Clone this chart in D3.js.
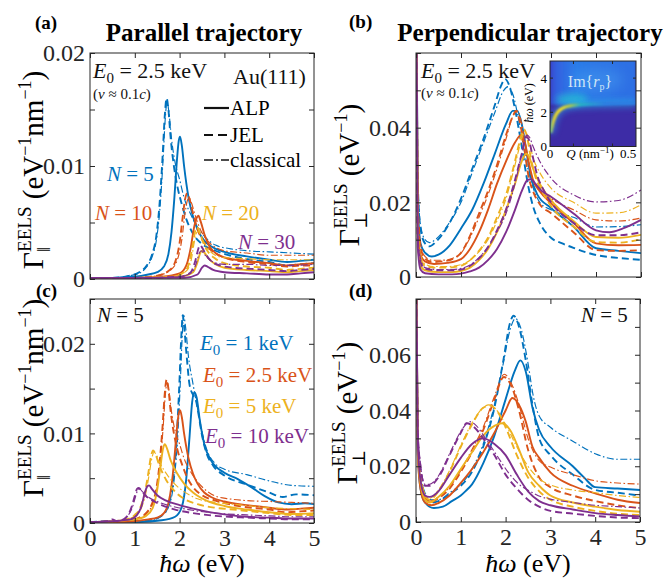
<!DOCTYPE html>
<html>
<head>
<meta charset="utf-8">
<script src="https://cdn.jsdelivr.net/npm/d3@7"></script>
<style>
  html, body { margin: 0; padding: 0; background: #fff; }
  svg { display: block; }
  #fig text { font-family: "Liberation Serif", "DejaVu Serif", serif; }
</style>
</head>
<body>
<svg id="fig" width="668" height="580"></svg>
<script>
// ---------------------------------------------------------------------------
// EELS spectra of Au(111) films: energy (eV) vs. loss probability.
// Each series is a list of [hbar*omega (eV), Gamma] pairs.
// ---------------------------------------------------------------------------

// Parallel trajectory, E0 = 2.5 keV, N = 5 (also the E0 = 2.5 keV curves of panel c)
const par_N5_ALP = [[0,0.0001],[0.5,0.0001],[1.0,0.0002],[1.3,0.0004],[1.5,0.0006],[1.65,0.0011],[1.75,0.0022],[1.82,0.0042],[1.88,0.0070],[1.94,0.0105],[1.98,0.0122],[2.01,0.0126],[2.05,0.0118],[2.1,0.0100],[2.2,0.0072],[2.3,0.0055],[2.4,0.0044],[2.55,0.0034],[2.7,0.0029],[3.0,0.0024],[3.5,0.0020],[4.0,0.0017],[4.4,0.0015],[4.7,0.0016],[5.0,0.0017]];
const par_N5_JEL = [[0,0.0001],[0.5,0.0001],[0.9,0.0003],[1.1,0.0006],[1.25,0.0011],[1.38,0.0021],[1.48,0.0038],[1.55,0.0065],[1.62,0.0108],[1.67,0.0145],[1.71,0.0160],[1.75,0.0150],[1.8,0.0125],[1.88,0.0098],[1.95,0.0082],[2.05,0.0066],[2.15,0.0053],[2.3,0.0040],[2.5,0.0031],[2.8,0.0025],[3.2,0.0020],[3.6,0.0017],[4.0,0.0015],[4.4,0.0012],[4.7,0.0013],[5.0,0.0014]];
const par_N5_cls = [[0,0.0001],[0.5,0.0001],[0.9,0.0003],[1.1,0.0005],[1.25,0.0010],[1.38,0.0019],[1.48,0.0034],[1.56,0.0062],[1.63,0.0105],[1.68,0.0142],[1.72,0.0157],[1.76,0.0148],[1.82,0.0124],[1.9,0.0103],[2.0,0.0088],[2.1,0.0072],[2.25,0.0057],[2.4,0.0046],[2.6,0.0036],[2.8,0.0030],[3.1,0.0027],[3.5,0.0025],[4.0,0.0024],[4.5,0.0023],[5.0,0.0022]];
// Parallel trajectory, E0 = 2.5 keV, N = 10, 20, 30
const par_N10_ALP = [[0,0.0001],[1.0,0.0001],[1.6,0.0002],[2.0,0.0005],[2.15,0.0012],[2.25,0.0028],[2.32,0.0045],[2.38,0.0054],[2.42,0.0056],[2.47,0.0051],[2.55,0.0040],[2.65,0.0030],[2.8,0.0023],[3.0,0.0019],[3.5,0.0016],[4.0,0.0014],[4.4,0.0012],[4.7,0.0013],[5.0,0.0014]];
const par_N10_JEL = [[0,0.0001],[1.0,0.0001],[1.5,0.0003],[1.75,0.0007],[1.9,0.0015],[2.0,0.0032],[2.07,0.0055],[2.12,0.0070],[2.17,0.0076],[2.22,0.0071],[2.3,0.0058],[2.4,0.0044],[2.55,0.0032],[2.75,0.0024],[3.0,0.0019],[3.5,0.0015],[4.0,0.0013],[4.4,0.0011],[4.7,0.0012],[5.0,0.0012]];
const par_N10_cls = [[0,0.0001],[1.0,0.0001],[1.5,0.0003],[1.8,0.0008],[1.95,0.0017],[2.05,0.0035],[2.12,0.0058],[2.17,0.0069],[2.21,0.0072],[2.26,0.0068],[2.35,0.0056],[2.45,0.0045],[2.6,0.0035],[2.8,0.0028],[3.0,0.0025],[3.5,0.0023],[4.0,0.0021],[4.5,0.0021],[5.0,0.0021]];
const par_N20_ALP = [[0,0.0001],[1.0,0.0001],[2.0,0.0002],[2.3,0.0006],[2.4,0.0015],[2.46,0.0023],[2.5,0.0025],[2.56,0.0023],[2.65,0.0018],[2.8,0.0013],[3.0,0.0010],[3.5,0.0008],[4.0,0.0007],[4.4,0.0006],[4.7,0.0007],[5.0,0.0008]];
const par_N20_JEL = [[0,0.0001],[1.0,0.0001],[1.8,0.0002],[2.1,0.0006],[2.22,0.0015],[2.3,0.0032],[2.35,0.0043],[2.39,0.0046],[2.44,0.0042],[2.52,0.0033],[2.62,0.0025],[2.8,0.0018],[3.0,0.0014],[3.5,0.0011],[4.0,0.0010],[4.4,0.0008],[4.7,0.0009],[5.0,0.0010]];
const par_N20_cls = [[0,0.0001],[1.0,0.0001],[1.8,0.0002],[2.15,0.0007],[2.26,0.0017],[2.33,0.0033],[2.38,0.0041],[2.42,0.0042],[2.47,0.0039],[2.55,0.0032],[2.65,0.0026],[2.8,0.0021],[3.0,0.0019],[3.5,0.0018],[4.0,0.0017],[4.5,0.0017],[5.0,0.0017]];
const par_N30_ALP = [[0,0.0001],[1.0,0.0001],[2.1,0.0001],[2.4,0.0004],[2.5,0.0010],[2.56,0.0012],[2.62,0.0011],[2.75,0.0008],[3.0,0.0006],[3.5,0.0005],[4.0,0.0004],[4.4,0.0004],[4.7,0.0005],[5.0,0.0006]];
const par_N30_JEL = [[0,0.0001],[1.0,0.0001],[2.0,0.0002],[2.25,0.0006],[2.35,0.0016],[2.42,0.0027],[2.46,0.0030],[2.5,0.0028],[2.58,0.0022],[2.7,0.0016],[2.9,0.0012],[3.2,0.0010],[3.6,0.0009],[4.0,0.0008],[4.4,0.0007],[4.7,0.0008],[5.0,0.0009]];
const par_N30_cls = [[0,0.0001],[1.0,0.0001],[2.0,0.0002],[2.28,0.0006],[2.38,0.0015],[2.44,0.0023],[2.48,0.0025],[2.53,0.0023],[2.62,0.0019],[2.75,0.0015],[3.0,0.0013],[3.5,0.0013],[4.0,0.0012],[4.5,0.0012],[5.0,0.0013]];

// Perpendicular trajectory, E0 = 2.5 keV, N = 5, 10, 20, 30
const perp_N5_ALP = [[0,0.09],[0.04,0.02],[0.1,0.009],[0.2,0.0065],[0.35,0.0055],[0.5,0.006],[0.75,0.0085],[1.0,0.013],[1.25,0.018],[1.5,0.025],[1.75,0.033],[2.0,0.041],[2.15,0.0445],[2.25,0.0445],[2.35,0.041],[2.45,0.034],[2.55,0.027],[2.7,0.022],[3.0,0.0185],[3.5,0.0135],[4.0,0.0077],[4.5,0.0070],[5.0,0.0064]];
const perp_N5_JEL = [[0,0.09],[0.04,0.025],[0.1,0.013],[0.2,0.009],[0.3,0.0082],[0.45,0.0095],[0.7,0.0135],[1.0,0.021],[1.25,0.029],[1.5,0.037],[1.75,0.046],[1.9,0.0515],[1.98,0.053],[2.08,0.051],[2.2,0.045],[2.35,0.035],[2.5,0.024],[2.6,0.019],[2.75,0.0145],[3.0,0.0105],[3.25,0.0090],[3.5,0.0078],[4.0,0.0059],[4.5,0.0051],[5.0,0.0046]];
const perp_N5_cls = [[0,0.09],[0.04,0.026],[0.1,0.014],[0.2,0.010],[0.3,0.0092],[0.45,0.0102],[0.7,0.0138],[1.0,0.020],[1.25,0.028],[1.5,0.036],[1.75,0.044],[1.95,0.050],[2.05,0.051],[2.15,0.049],[2.3,0.041],[2.45,0.031],[2.6,0.024],[2.75,0.020],[3.0,0.018],[3.5,0.016],[4.0,0.0134],[4.5,0.0135],[5.0,0.014]];
const perp_N10_ALP = [[0,0.09],[0.04,0.015],[0.1,0.006],[0.2,0.0042],[0.4,0.0035],[0.7,0.0038],[1.0,0.0048],[1.2,0.0075],[1.4,0.012],[1.6,0.018],[1.8,0.025],[2.0,0.031],[2.2,0.036],[2.33,0.038],[2.42,0.036],[2.5,0.031],[2.6,0.026],[2.75,0.023],[3.0,0.0198],[3.5,0.0145],[4.0,0.0090],[4.5,0.0085],[5.0,0.0086]];
const perp_N10_JEL = [[0,0.09],[0.04,0.02],[0.1,0.008],[0.2,0.005],[0.35,0.004],[0.6,0.0042],[0.85,0.005],[1.0,0.0065],[1.2,0.011],[1.4,0.017],[1.6,0.023],[1.8,0.030],[2.0,0.038],[2.15,0.043],[2.22,0.0445],[2.3,0.042],[2.4,0.035],[2.5,0.027],[2.6,0.023],[2.75,0.0195],[3.0,0.0171],[3.5,0.012],[4.0,0.0072],[4.5,0.0070],[5.0,0.0072]];
const perp_N10_cls = [[0,0.09],[0.04,0.022],[0.1,0.009],[0.2,0.0055],[0.35,0.0045],[0.6,0.0045],[0.85,0.0052],[1.0,0.0064],[1.2,0.0105],[1.4,0.016],[1.6,0.022],[1.8,0.029],[2.0,0.037],[2.15,0.043],[2.25,0.0445],[2.35,0.041],[2.45,0.034],[2.55,0.028],[2.7,0.024],[3.0,0.021],[3.5,0.018],[4.0,0.0153],[4.5,0.015],[5.0,0.0158]];
const perp_N20_ALP = [[0,0.09],[0.04,0.01],[0.1,0.003],[0.2,0.0018],[0.5,0.0013],[0.8,0.0013],[1.0,0.0016],[1.2,0.0025],[1.4,0.0045],[1.6,0.0075],[1.8,0.012],[2.0,0.018],[2.2,0.025],[2.35,0.031],[2.45,0.033],[2.52,0.032],[2.6,0.029],[2.75,0.025],[3.0,0.0206],[3.5,0.015],[4.0,0.0107],[4.5,0.0105],[5.0,0.0113]];
const perp_N20_JEL = [[0,0.09],[0.04,0.012],[0.1,0.005],[0.2,0.003],[0.4,0.0025],[0.7,0.0025],[1.0,0.003],[1.2,0.0045],[1.4,0.007],[1.6,0.0105],[1.8,0.016],[2.0,0.022],[2.2,0.031],[2.32,0.037],[2.4,0.0395],[2.46,0.038],[2.55,0.032],[2.65,0.027],[2.8,0.023],[3.0,0.019],[3.5,0.0135],[4.0,0.0094],[4.5,0.0092],[5.0,0.0101]];
const perp_N20_cls = [[0,0.09],[0.04,0.014],[0.1,0.006],[0.2,0.0035],[0.4,0.0028],[0.7,0.0028],[1.0,0.0033],[1.2,0.0045],[1.4,0.0068],[1.6,0.010],[1.8,0.015],[2.0,0.021],[2.2,0.030],[2.35,0.037],[2.42,0.039],[2.5,0.037],[2.6,0.032],[2.75,0.028],[3.0,0.0238],[3.5,0.020],[4.0,0.0171],[4.5,0.0172],[5.0,0.0193]];
const perp_N30_ALP = [[0,0.09],[0.04,0.008],[0.1,0.002],[0.2,0.001],[0.5,0.0007],[0.8,0.0007],[1.0,0.0009],[1.2,0.0015],[1.4,0.0025],[1.6,0.0045],[1.8,0.0075],[2.0,0.012],[2.2,0.018],[2.35,0.023],[2.48,0.026],[2.56,0.0262],[2.65,0.025],[2.8,0.023],[3.0,0.0215],[3.5,0.017],[4.0,0.0125],[4.3,0.012],[4.6,0.013],[5.0,0.0153]];
const perp_N30_JEL = [[0,0.09],[0.04,0.01],[0.1,0.004],[0.2,0.0022],[0.5,0.0018],[0.8,0.0018],[1.0,0.002],[1.2,0.003],[1.4,0.005],[1.6,0.008],[1.8,0.0125],[2.0,0.018],[2.2,0.026],[2.35,0.033],[2.45,0.0375],[2.5,0.037],[2.58,0.033],[2.7,0.027],[2.85,0.023],[3.0,0.020],[3.5,0.0145],[4.0,0.0112],[4.5,0.0112],[5.0,0.012]];
const perp_N30_cls = [[0,0.09],[0.04,0.012],[0.1,0.005],[0.2,0.0025],[0.5,0.002],[0.8,0.002],[1.0,0.0023],[1.2,0.0032],[1.4,0.0052],[1.6,0.008],[1.8,0.012],[2.0,0.017],[2.2,0.025],[2.35,0.033],[2.46,0.038],[2.52,0.0375],[2.6,0.035],[2.75,0.031],[3.0,0.0265],[3.5,0.022],[4.0,0.0201],[4.5,0.0205],[5.0,0.0233]];

// Parallel trajectory, N = 5, E0 = 1, 5, 10 keV
const parE1_ALP = [[0,0.0001],[0.5,0.0001],[1.0,0.0001],[1.6,0.0003],[1.9,0.0007],[2.05,0.0018],[2.15,0.005],[2.22,0.0095],[2.28,0.0135],[2.33,0.0146],[2.38,0.014],[2.45,0.0115],[2.55,0.0088],[2.7,0.0070],[3.0,0.0056],[3.3,0.0049],[3.6,0.0040],[3.9,0.0030],[4.2,0.0023],[4.5,0.0021],[4.8,0.0022],[5.0,0.0021]];
const parE1_JEL = [[0,0.0001],[0.5,0.0002],[1.0,0.0002],[1.4,0.0004],[1.6,0.0008],[1.75,0.002],[1.85,0.0045],[1.93,0.009],[1.99,0.015],[2.04,0.021],[2.07,0.0232],[2.1,0.022],[2.16,0.0185],[2.22,0.0155],[2.3,0.0143],[2.36,0.0138],[2.42,0.0122],[2.5,0.0098],[2.6,0.0078],[2.75,0.0064],[3.0,0.0053],[3.5,0.0043],[4.0,0.0034],[4.3,0.0029],[4.6,0.0032],[5.0,0.0031]];
const parE1_cls = [[0,0.0001],[0.5,0.0002],[1.0,0.0002],[1.4,0.0004],[1.6,0.0008],[1.77,0.002],[1.87,0.0045],[1.95,0.009],[2.01,0.015],[2.06,0.021],[2.09,0.0232],[2.13,0.022],[2.2,0.0185],[2.3,0.0155],[2.4,0.0128],[2.5,0.0102],[2.6,0.0083],[2.8,0.0066],[3.0,0.0060],[3.5,0.0054],[4.0,0.0047],[4.5,0.0042],[5.0,0.0041]];
const parE5_ALP = [[0,0.0001],[0.5,0.0002],[1.0,0.0004],[1.25,0.0008],[1.4,0.0017],[1.5,0.0037],[1.57,0.0062],[1.63,0.0083],[1.67,0.0088],[1.72,0.0083],[1.8,0.0070],[1.95,0.0055],[2.1,0.0044],[2.3,0.0034],[2.6,0.0025],[3.0,0.0019],[3.5,0.0015],[4.0,0.0012],[4.5,0.0010],[5.0,0.0011]];
const parE5_JEL = [[0,0.0001],[0.5,0.0002],[0.8,0.0004],[1.0,0.0009],[1.12,0.0017],[1.22,0.0033],[1.3,0.0055],[1.36,0.0074],[1.41,0.0081],[1.46,0.0077],[1.55,0.0064],[1.7,0.0048],[1.9,0.0035],[2.1,0.0027],[2.4,0.0021],[2.8,0.0017],[3.2,0.0015],[3.6,0.0013],[4.0,0.0011],[4.5,0.0009],[5.0,0.0009]];
const parE5_cls = [[0,0.0001],[0.5,0.0002],[0.8,0.0004],[1.0,0.0008],[1.14,0.0016],[1.24,0.0032],[1.32,0.0054],[1.38,0.0072],[1.43,0.0079],[1.48,0.0076],[1.57,0.0066],[1.72,0.0054],[1.9,0.0043],[2.1,0.0035],[2.4,0.0027],[2.8,0.0023],[3.2,0.0021],[3.6,0.0019],[4.0,0.0017],[4.5,0.0016],[5.0,0.0015]];
const parE10_ALP = [[0,0.0001],[0.5,0.0002],[0.9,0.0004],[1.05,0.0009],[1.15,0.0019],[1.22,0.0033],[1.28,0.0041],[1.32,0.0042],[1.38,0.0038],[1.5,0.0031],[1.7,0.0025],[2.0,0.0020],[2.4,0.0015],[2.8,0.0011],[3.5,0.0007],[4.0,0.0006],[4.5,0.0005],[5.0,0.0005]];
const parE10_JEL = [[0,0.0001],[0.4,0.0002],[0.5,0.0004],[0.6,0.0002],[0.75,0.0004],[0.85,0.0009],[0.93,0.0018],[1.0,0.0030],[1.05,0.0038],[1.09,0.0039],[1.15,0.0036],[1.25,0.0030],[1.4,0.0025],[1.6,0.0020],[1.9,0.0015],[2.3,0.0011],[2.8,0.0008],[3.5,0.0006],[4.0,0.0005],[4.5,0.0004],[5.0,0.0004]];
const parE10_cls = [[0,0.0001],[0.4,0.0002],[0.6,0.0002],[0.75,0.0004],[0.86,0.0009],[0.95,0.0018],[1.02,0.0030],[1.07,0.0037],[1.11,0.0038],[1.17,0.0035],[1.3,0.0029],[1.5,0.0024],[1.8,0.0019],[2.2,0.0015],[2.8,0.0011],[3.5,0.0009],[4.0,0.0008],[4.5,0.0007],[5.0,0.0007]];

// Perpendicular trajectory, N = 5, E0 = 1, 2.5, 5, 10 keV
const perpE1_ALP = [[0,0.1],[0.04,0.025],[0.1,0.012],[0.2,0.007],[0.4,0.005],[0.6,0.0055],[0.8,0.0075],[1.0,0.0095],[1.1,0.011],[1.25,0.0135],[1.5,0.021],[1.75,0.031],[2.0,0.044],[2.2,0.054],[2.33,0.058],[2.45,0.054],[2.6,0.041],[2.75,0.033],[3.0,0.027],[3.5,0.020],[3.75,0.016],[4.0,0.0125],[4.5,0.012],[5.0,0.0115]];
const perpE1_JEL = [[0,0.1],[0.04,0.03],[0.1,0.018],[0.2,0.0095],[0.35,0.007],[0.5,0.0075],[0.75,0.010],[1.0,0.013],[1.25,0.018],[1.5,0.027],[1.75,0.041],[1.95,0.058],[2.1,0.0715],[2.18,0.074],[2.3,0.070],[2.45,0.058],[2.6,0.042],[2.75,0.030],[3.0,0.024],[3.5,0.017],[4.0,0.0115],[4.5,0.0105],[5.0,0.0095]];
const perpE1_cls = [[0,0.1],[0.04,0.032],[0.1,0.019],[0.2,0.0105],[0.35,0.008],[0.5,0.008],[0.75,0.0105],[1.0,0.0135],[1.25,0.019],[1.5,0.028],[1.75,0.042],[1.95,0.057],[2.1,0.069],[2.22,0.073],[2.35,0.069],[2.5,0.057],[2.62,0.045],[2.75,0.038],[3.0,0.034],[3.5,0.029],[4.0,0.0245],[4.5,0.0225],[5.0,0.0225]];
const perpE25_ALP = [[0,0.1],[0.04,0.024],[0.1,0.012],[0.2,0.007],[0.35,0.006],[0.5,0.0068],[0.75,0.0095],[1.0,0.014],[1.25,0.019],[1.5,0.025],[1.75,0.032],[2.0,0.040],[2.15,0.0445],[2.3,0.042],[2.45,0.036],[2.6,0.027],[2.75,0.023],[3.0,0.0178],[3.5,0.013],[4.0,0.0103],[4.5,0.0080],[5.0,0.0068]];
const perpE25_JEL = [[0,0.1],[0.04,0.03],[0.1,0.017],[0.2,0.009],[0.3,0.007],[0.5,0.0085],[0.75,0.012],[1.0,0.018],[1.25,0.025],[1.5,0.033],[1.75,0.044],[1.96,0.052],[2.15,0.048],[2.3,0.040],[2.5,0.026],[2.75,0.016],[3.0,0.0125],[3.5,0.0095],[4.0,0.0075],[4.5,0.006],[5.0,0.005]];
const perpE25_cls = [[0,0.1],[0.04,0.031],[0.1,0.018],[0.2,0.0095],[0.3,0.0075],[0.5,0.009],[0.75,0.0125],[1.0,0.0185],[1.25,0.026],[1.5,0.034],[1.75,0.045],[1.97,0.053],[2.15,0.049],[2.3,0.042],[2.5,0.030],[2.75,0.022],[3.0,0.0197],[3.5,0.017],[4.0,0.0148],[4.5,0.014],[5.0,0.0136]];
const perpE5_ALP = [[0,0.1],[0.04,0.026],[0.1,0.014],[0.2,0.008],[0.3,0.007],[0.5,0.009],[0.75,0.013],[1.0,0.019],[1.25,0.025],[1.5,0.031],[1.75,0.0345],[1.92,0.0354],[2.1,0.033],[2.3,0.026],[2.5,0.018],[2.75,0.013],[3.0,0.0095],[3.5,0.007],[4.0,0.0055],[4.5,0.0043],[5.0,0.0037]];
const perpE5_JEL = [[0,0.1],[0.04,0.03],[0.1,0.017],[0.2,0.0095],[0.3,0.008],[0.5,0.011],[0.75,0.018],[1.0,0.027],[1.25,0.035],[1.5,0.041],[1.65,0.0418],[1.8,0.040],[2.0,0.034],[2.25,0.024],[2.5,0.016],[2.75,0.011],[3.0,0.008],[3.5,0.0055],[4.0,0.004],[4.5,0.003],[5.0,0.0025]];
const perpE5_cls = [[0,0.1],[0.04,0.031],[0.1,0.018],[0.2,0.010],[0.3,0.0085],[0.5,0.0115],[0.75,0.0185],[1.0,0.0275],[1.25,0.0355],[1.5,0.041],[1.62,0.042],[1.78,0.0405],[2.0,0.035],[2.25,0.027],[2.5,0.020],[2.75,0.0155],[3.0,0.0133],[3.5,0.0115],[4.0,0.0105],[4.5,0.0095],[5.0,0.0088]];
const perpE10_ALP = [[0,0.1],[0.04,0.028],[0.1,0.015],[0.2,0.0095],[0.3,0.009],[0.5,0.011],[0.75,0.017],[1.0,0.023],[1.25,0.028],[1.5,0.030],[1.75,0.028],[2.0,0.024],[2.25,0.017],[2.5,0.011],[2.75,0.0075],[3.0,0.006],[3.5,0.0045],[4.0,0.0032],[4.5,0.0025],[5.0,0.002]];
const perpE10_JEL = [[0,0.1],[0.04,0.032],[0.1,0.020],[0.2,0.013],[0.3,0.013],[0.5,0.016],[0.75,0.024],[1.0,0.032],[1.13,0.0354],[1.3,0.034],[1.5,0.030],[1.75,0.024],[2.0,0.017],[2.25,0.012],[2.5,0.008],[2.75,0.0055],[3.0,0.004],[3.5,0.003],[4.0,0.0022],[4.5,0.0016],[5.0,0.0014]];
const perpE10_cls = [[0,0.1],[0.04,0.033],[0.1,0.021],[0.2,0.0135],[0.3,0.0135],[0.5,0.0165],[0.75,0.0245],[1.0,0.0325],[1.2,0.036],[1.35,0.0345],[1.55,0.030],[1.8,0.024],[2.05,0.018],[2.3,0.0135],[2.55,0.011],[2.8,0.009],[3.0,0.0082],[3.5,0.007],[4.0,0.006],[4.5,0.0055],[5.0,0.005]];

// Inset: surface-plasmon dispersion of Im{r_p}, Q (1/nm) vs hbar*omega (eV)
const inset_Q = [0.004, 0.012, 0.02, 0.03, 0.045, 0.065, 0.09, 0.12, 0.16, 0.22, 0.3, 0.4, 0.55];
const inset_W = [0.8, 1.15, 1.45, 1.7, 1.95, 2.15, 2.28, 2.36, 2.42, 2.46, 2.48, 2.5, 2.53];
const insetBulkQ = [0, 0.1, 0.2, 0.3, 0.4, 0.55];
const insetBulkW = [2.45, 2.47, 2.5, 2.52, 2.54, 2.56];

// Axis ticks and labels
const xTicks = [0, 1, 2, 3, 4, 5];
const yTicksA = [0, 0.005, 0.01, 0.015, 0.02];
const yLabelsA = [0, 0.01, 0.02];
const yTicksB = [0, 0.01, 0.02, 0.03, 0.04, 0.05, 0.06];
const yLabelsB = [0, 0.02, 0.04];
const yTicksC = [0, 0.005, 0.01, 0.015, 0.02, 0.025];
const yLabelsC = [0, 0.01, 0.02];
const yTicksD = [0, 0.01, 0.02, 0.03, 0.04, 0.05, 0.06, 0.07, 0.08];
const yLabelsD = [0, 0.02, 0.04, 0.06];
const insetYTicks = [0, 2, 4];
const insetXLabels = [0, 0.5];
const insetXTicks = [0.15, 0.4];

// ---------------------------------------------------------------------------
const SERIF = '"Liberation Serif", "DejaVu Serif", serif';
const C = { blue: '#0072BD', orange: '#D95319', yellow: '#EDB120', purple: '#7E2F8E' };
const style = {
  ALP: { w: 1.9, dash: null },
  JEL: { w: 1.9, dash: '7 4' },
  cls: { w: 1.15, dash: '7 2.5 1.6 2.5' }
};

const svg = d3.select('#fig');
const defs = svg.append('defs');

// Text built from pieces: base text, sub/superscripts (b = baseline shift, up positive),
// `under` stacks a piece beneath the previous one.
function rich(parent, parts, size) {
  const text = parent.append('text').attr('font-size', size);
  let base = 0, prevW = 0, pending = 0;
  parts.forEach(p => {
    const ts = text.append('tspan').text(p.t);
    if (p.s) ts.attr('font-size', p.s);
    if (p.it) ts.attr('font-style', 'italic');
    if (p.bold) ts.attr('font-weight', 'bold');
    const shift = p.b || 0;
    if (base - shift !== 0) ts.attr('dy', base - shift);
    base = shift;
    let dx = pending; pending = 0;
    if (p.under) dx -= prevW;
    if (dx) ts.attr('dx', dx);
    const w = ts.node().getComputedTextLength();
    if (p.under) pending = Math.max(0, prevW - w);
    prevW = w;
  });
  return text;
}
function placeCentered(text, cx) {
  const bb = text.node().getBBox();
  text.attr('x', cx - bb.width / 2);
}
function rotatedTitle(cx, cy, parts, size) {
  const g = svg.append('g').attr('transform', `translate(${cx},${cy}) rotate(-90)`);
  const t = rich(g, parts, size);
  const bb = t.node().getBBox();
  t.attr('x', -bb.width / 2);
  return t;
}

const layout = {
  a: { x0: 90, x1: 314, y0: 53, y1: 279 },
  b: { x0: 416, x1: 641, y0: 53, y1: 277 },
  c: { x0: 90, x1: 314, y0: 299, y1: 523 },
  d: { x0: 416, x1: 640, y0: 299, y1: 522 }
};

const panels = [
  { key: 'a', yMax: 0.02, yTicks: yTicksA, yLabels: yLabelsA, xLab: false, series: [
    [par_N5_ALP, C.blue, 'ALP'], [par_N5_JEL, C.blue, 'JEL'], [par_N5_cls, C.blue, 'cls'],
    [par_N10_ALP, C.orange, 'ALP'], [par_N10_JEL, C.orange, 'JEL'], [par_N10_cls, C.orange, 'cls'],
    [par_N20_ALP, C.yellow, 'ALP'], [par_N20_JEL, C.yellow, 'JEL'], [par_N20_cls, C.yellow, 'cls'],
    [par_N30_ALP, C.purple, 'ALP'], [par_N30_JEL, C.purple, 'JEL'], [par_N30_cls, C.purple, 'cls']] },
  { key: 'b', yMax: 0.06, yTicks: yTicksB, yLabels: yLabelsB, xLab: false, series: [
    [perp_N5_ALP, C.blue, 'ALP'], [perp_N5_JEL, C.blue, 'JEL'], [perp_N5_cls, C.blue, 'cls'],
    [perp_N10_ALP, C.orange, 'ALP'], [perp_N10_JEL, C.orange, 'JEL'], [perp_N10_cls, C.orange, 'cls'],
    [perp_N20_ALP, C.yellow, 'ALP'], [perp_N20_JEL, C.yellow, 'JEL'], [perp_N20_cls, C.yellow, 'cls'],
    [perp_N30_ALP, C.purple, 'ALP'], [perp_N30_JEL, C.purple, 'JEL'], [perp_N30_cls, C.purple, 'cls']] },
  { key: 'c', yMax: 0.025, yTicks: yTicksC, yLabels: yLabelsC, xLab: true, series: [
    [parE1_ALP, C.blue, 'ALP'], [parE1_JEL, C.blue, 'JEL'], [parE1_cls, C.blue, 'cls'],
    [par_N5_ALP, C.orange, 'ALP'], [par_N5_JEL, C.orange, 'JEL'], [par_N5_cls, C.orange, 'cls'],
    [parE5_ALP, C.yellow, 'ALP'], [parE5_JEL, C.yellow, 'JEL'], [parE5_cls, C.yellow, 'cls'],
    [parE10_ALP, C.purple, 'ALP'], [parE10_JEL, C.purple, 'JEL'], [parE10_cls, C.purple, 'cls']] },
  { key: 'd', yMax: 0.08, yTicks: yTicksD, yLabels: yLabelsD, xLab: true, series: [
    [perpE1_ALP, C.blue, 'ALP'], [perpE1_JEL, C.blue, 'JEL'], [perpE1_cls, C.blue, 'cls'],
    [perpE25_ALP, C.orange, 'ALP'], [perpE25_JEL, C.orange, 'JEL'], [perpE25_cls, C.orange, 'cls'],
    [perpE5_ALP, C.yellow, 'ALP'], [perpE5_JEL, C.yellow, 'JEL'], [perpE5_cls, C.yellow, 'cls'],
    [perpE10_ALP, C.purple, 'ALP'], [perpE10_JEL, C.purple, 'JEL'], [perpE10_cls, C.purple, 'cls']] }
];

const fmtY = v => v === 0 ? '0' : d3.format('.2f')(v);
const AX = '#262626';

panels.forEach(p => {
  const b = layout[p.key];
  const x = d3.scaleLinear().domain([0, 5]).range([b.x0, b.x1]);
  const y = d3.scaleLinear().domain([0, p.yMax]).range([b.y1, b.y0]);
  const clipId = 'clip-' + p.key;
  defs.append('clipPath').attr('id', clipId).append('rect')
    .attr('x', b.x0).attr('y', b.y0).attr('width', b.x1 - b.x0).attr('height', b.y1 - b.y0);

  const g = svg.append('g');
  const line = d3.line().x(d => x(d[0])).y(d => y(d[1])).curve(d3.curveMonotoneX);
  const cg = g.append('g').attr('clip-path', `url(#${clipId})`);
  p.series.forEach(([data, color, model]) => {
    const st = style[model];
    cg.append('path').datum(data).attr('d', line)
      .attr('fill', 'none').attr('stroke', color).attr('stroke-width', st.w)
      .attr('stroke-dasharray', st.dash).attr('stroke-linejoin', 'round');
  });

  const fontAxis = s => s.attr('font-family', SERIF).attr('font-size', 24).attr('color', AX)
    .call(s2 => s2.select('.domain').remove());
  g.append('g').attr('transform', `translate(${b.x0},0)`)
    .call(d3.axisLeft(y).tickValues(p.yTicks).tickSizeInner(-5).tickSizeOuter(0).tickPadding(5)
      .tickFormat(v => p.yLabels.includes(v) ? fmtY(v) : ''))
    .call(fontAxis);
  g.append('g').attr('transform', `translate(${b.x1},0)`)
    .call(d3.axisRight(y).tickValues(p.yTicks).tickSizeInner(-5).tickSizeOuter(0).tickFormat(''))
    .call(fontAxis);
  g.append('g').attr('transform', `translate(0,${b.y1})`)
    .call(d3.axisBottom(x).tickValues(xTicks).tickSizeInner(-5).tickSizeOuter(0).tickPadding(6)
      .tickFormat(p.xLab ? d3.format('d') : ''))
    .call(fontAxis);
  g.append('g').attr('transform', `translate(0,${b.y0})`)
    .call(d3.axisTop(x).tickValues(xTicks).tickSizeInner(-5).tickSizeOuter(0).tickFormat(''))
    .call(fontAxis);
  g.append('rect').attr('x', b.x0).attr('y', b.y0).attr('width', b.x1 - b.x0).attr('height', b.y1 - b.y0)
    .attr('fill', 'none').attr('stroke', AX).attr('stroke-width', 1);
});

// ---------------- Panel letters and column titles ----------------
const letter = (t, x, y) => svg.append('text').attr('x', x).attr('y', y).attr('font-size', 19)
  .attr('font-weight', 'bold').text(t);
letter('(a)', 35, 29); letter('(b)', 349, 28); letter('(c)', 36, 297); letter('(d)', 349, 297);
svg.append('text').attr('x', 204).attr('y', 41).attr('text-anchor', 'middle').attr('font-size', 25)
  .attr('font-weight', 'bold').text('Parallel trajectory');
svg.append('text').attr('x', 530).attr('y', 41).attr('text-anchor', 'middle').attr('font-size', 25)
  .attr('font-weight', 'bold').text('Perpendicular trajectory');

// ---------------- Axis titles ----------------
const gParParts = [
  { t: 'Γ', s: 30 }, { t: 'EELS', s: 19, b: 12 }, { t: '‖', s: 19, b: -7, under: true },
  { t: '\u00A0(eV', s: 29 }, { t: '−1', s: 18, b: 12 }, { t: 'nm', s: 29 }, { t: '−1', s: 18, b: 12 }, { t: ')', s: 29 }
];
const gPerpParts = [
  { t: 'Γ', s: 30 }, { t: 'EELS', s: 19, b: 12 }, { t: '⊥', s: 18, b: -8, under: true },
  { t: '\u00A0(eV', s: 29 }, { t: '−1', s: 18, b: 12 }, { t: ')', s: 29 }
];
rotatedTitle(43, 170, gParParts, 29);
rotatedTitle(43, 398, gParParts, 29);
rotatedTitle(359, 175, gPerpParts, 29);
rotatedTitle(357, 413, gPerpParts, 29);
const hw = [{ t: 'ħω', it: true }, { t: '\u00A0(eV)' }];
placeCentered(rich(svg, hw, 26).attr('y', 572), 202);
placeCentered(rich(svg, hw, 26).attr('y', 572), 528);

// ---------------- Annotations ----------------
function label(parts, x, y, size, color) {
  return rich(svg, parts, size).attr('x', x).attr('y', y).attr('fill', color || '#111');
}
const e0 = v => [{ t: 'E', it: true }, { t: '0', s: 15, b: -5 }, { t: ` = ${v} keV` }];
const vel = [{ t: '(' }, { t: 'v', it: true }, { t: ' ≈ 0.1' }, { t: 'c', it: true }, { t: ')' }];
const nLab = v => [{ t: 'N', it: true }, { t: ` = ${v}` }];

label(e0('2.5'), 93, 78, 22);
label(vel, 93, 99, 15);
label([{ t: 'Au(111)' }], 233, 84, 22);
label(e0('2.5'), 421, 78, 22);
label(vel, 421, 98, 15);

label(nLab(5), 107, 181, 21, C.blue);
label(nLab(10), 95, 220, 21, C.orange);
label(nLab(20), 202, 220, 21, C.yellow);
label(nLab(30), 238, 249, 21, C.purple);

label(nLab(5), 97, 322, 21);
label(nLab(5), 581, 322, 21);
label(e0('1'), 200, 350, 21, C.blue);
label(e0('2.5'), 203, 382, 21, C.orange);
label(e0('5'), 203, 413, 21, C.yellow);
label(e0('10'), 205, 443, 21, C.purple);

// Legend of the three models
const legendRows = [['ALP', 'ALP', 108], ['JEL', 'JEL', 135], ['cls', 'classical', 160]];
legendRows.forEach(([m, name, yy]) => {
  svg.append('line').attr('x1', 204).attr('x2', 229).attr('y1', yy).attr('y2', yy)
    .attr('stroke', '#111').attr('stroke-width', m === 'cls' ? 1.6 : 2.2)
    .attr('stroke-dasharray', m === 'JEL' ? '9 5' : (m === 'cls' ? '9 3 2 3' : null));
  svg.append('text').attr('x', 230).attr('y', yy + 7).attr('font-size', 21).text(name);
});

// ---------------- Inset: Im{r_p} map ----------------
const ib = { x0: 550, x1: 636, y0: 61, y1: 146.5 };
const qx = d3.scaleLinear().domain([0, 0.55]).range([ib.x0, ib.x1]);
const wy = d3.scaleLinear().domain([0, 5]).range([ib.y1, ib.y0]);
defs.append('clipPath').attr('id', 'clip-inset').append('rect')
  .attr('x', ib.x0).attr('y', ib.y0).attr('width', ib.x1 - ib.x0).attr('height', ib.y1 - ib.y0);
const blur = (id, s) => defs.append('filter').attr('id', id).attr('x', '-50%').attr('y', '-50%')
  .attr('width', '200%').attr('height', '200%').append('feGaussianBlur').attr('stdDeviation', s);
blur('blur1', 0.8); blur('blur3', 3); blur('blur6', 6);

const upGrad = defs.append('linearGradient').attr('id', 'upper').attr('gradientUnits', 'userSpaceOnUse')
  .attr('x1', ib.x0).attr('x2', ib.x1).attr('y1', 0).attr('y2', 0);
[[0, '#3a45cc'], [0.08, '#3162e0'], [0.3, '#2c7be8'], [1, '#2f6ee3']].forEach(([o, c]) =>
  upGrad.append('stop').attr('offset', o).attr('stop-color', c));
const dispGrad = defs.append('linearGradient').attr('id', 'disp').attr('gradientUnits', 'userSpaceOnUse')
  .attr('x1', ib.x0).attr('x2', ib.x0 + 55).attr('y1', 0).attr('y2', 0);
[[0, '#3fbf9a'], [0.06, '#e6d52a'], [0.2, '#fbe41c'], [0.35, '#b5cc45'], [0.55, '#25b6c6'], [1, '#2b82e6']].forEach(([o, c]) =>
  dispGrad.append('stop').attr('offset', o).attr('stop-color', c));

const ig = svg.append('g');
const icg = ig.append('g').attr('clip-path', 'url(#clip-inset)');
icg.append('rect').attr('x', ib.x0).attr('y', ib.y0).attr('width', ib.x1 - ib.x0).attr('height', ib.y1 - ib.y0)
  .attr('fill', '#3d2ca6');
const bulk = insetBulkQ.map((q, i) => [q, insetBulkW[i]]);
icg.append('path').datum(bulk)
  .attr('d', d3.area().x(d => qx(d[0])).y0(wy(5.2)).y1(d => wy(d[1])).curve(d3.curveMonotoneX))
  .attr('fill', 'url(#upper)').attr('filter', 'url(#blur1)');
icg.append('ellipse').attr('cx', qx(0.3)).attr('cy', wy(3.9)).attr('rx', 26).attr('ry', 10)
  .attr('fill', '#4a9ff0').attr('opacity', 0.45).attr('filter', 'url(#blur6)');
icg.append('ellipse').attr('cx', qx(0.14)).attr('cy', wy(2.75)).attr('rx', 16).attr('ry', 6)
  .attr('fill', '#25bfd3').attr('opacity', 0.75).attr('filter', 'url(#blur3)');
const disp = inset_Q.map((q, i) => [q, inset_W[i]]);
const dline = d3.line().x(d => qx(d[0])).y(d => wy(d[1])).curve(d3.curveMonotoneX);
icg.append('path').datum(disp).attr('d', dline).attr('fill', 'none')
  .attr('stroke', '#2aa7e6').attr('stroke-width', 8).attr('opacity', 0.55).attr('filter', 'url(#blur3)');
icg.append('path').datum(disp).attr('d', dline).attr('fill', 'none')
  .attr('stroke', 'url(#disp)').attr('stroke-width', 3.2).attr('filter', 'url(#blur1)');

// inset frame, ticks, labels
ig.append('rect').attr('x', ib.x0).attr('y', ib.y0).attr('width', ib.x1 - ib.x0).attr('height', ib.y1 - ib.y0)
  .attr('fill', 'none').attr('stroke', AX).attr('stroke-width', 1);
insetYTicks.forEach(v => {
  ig.append('line').attr('x1', ib.x0).attr('x2', ib.x0 + 3).attr('y1', wy(v)).attr('y2', wy(v)).attr('stroke', AX);
  ig.append('line').attr('x1', ib.x1).attr('x2', ib.x1 - 3).attr('y1', wy(v)).attr('y2', wy(v)).attr('stroke', AX);
  ig.append('text').attr('x', ib.x0 - 3).attr('y', wy(v) + 4.5).attr('text-anchor', 'end')
    .attr('font-size', 13).text(v);
});
insetXTicks.forEach(v => {
  ig.append('line').attr('x1', qx(v)).attr('x2', qx(v)).attr('y1', ib.y0).attr('y2', ib.y0 + 3).attr('stroke', AX);
  ig.append('line').attr('x1', qx(v)).attr('x2', qx(v)).attr('y1', ib.y1).attr('y2', ib.y1 - 3).attr('stroke', AX);
});
insetXLabels.forEach(v => {
  ig.append('text').attr('x', qx(v)).attr('y', 158).attr('text-anchor', 'middle').attr('font-size', 13).text(v);
});
placeCentered(rich(ig, [{ t: 'Q', it: true }, { t: '\u00A0(nm' }, { t: '−1', s: 9, b: 5 }, { t: ')' }], 13).attr('y', 158), 590);
{
  const g = ig.append('g').attr('transform', `translate(${533},${103}) rotate(-90)`);
  const t = rich(g, [{ t: 'ħω', it: true }, { t: '\u00A0(eV)' }], 12);
  t.attr('x', -t.node().getBBox().width / 2);
}
placeCentered(rich(ig, [{ t: 'Im{' }, { t: 'r', it: true }, { t: 'p', s: 10, b: -3 }, { t: '}' }], 16)
  .attr('y', 87).attr('fill', '#cfe6f6'), 590);
</script>
</body>
</html>
